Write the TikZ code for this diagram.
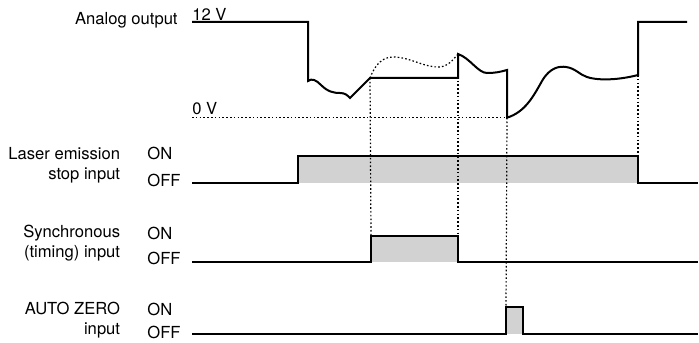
\documentclass[tikz,border=0pt]{standalone}
\usepackage{fontspec}
\setmainfont{TeX Gyre Heros}
\usepackage{tikz}
\usetikzlibrary{positioning}

\begin{document}
\begin{tikzpicture}[
    x=0.5pt, y=-0.5pt,
    sig/.style={line width=1pt, line join=miter},
    guide/.style={line width=0.6pt, dash pattern=on 0.8pt off 1.1pt},
    hifill/.style={fill=gray!35, draw=none},
    signame/.style={anchor=east, align=right, inner sep=0pt,
                    font=\fontsize{8.3}{10}\selectfont},
    level/.style={anchor=west, inner sep=0pt, font=\fontsize{8.3}{10}\selectfont}
]
\useasboundingbox (0,0) rectangle (699,342);

% signal names
\node[signame] (ana)  at (178,20)    {Analog output};
\node[signame] (las)  at (120.5,165) {Laser emission\\stop input};
\node[signame] (syn)  at (120.5,243) {Synchronous\\(timing) input};
\node[signame] (az)   at (120.5,320) {AUTO ZERO\\input};

% levels
\node[level] (v12)   at (192,14)  {12 V};
\node[level] (v0)    at (192,109) {0 V};
\node[level] (lason) at (147,153) {ON};
\node[level] (lasoff) at (147,180) {OFF};
\node[level] (synon) at (147,233) {ON};
\node[level] (synoff) at (147,258) {OFF};
\node[level] (azon)  at (147,309) {ON};
\node[level] (azoff) at (147,332) {OFF};

% shaded ON periods
\fill[hifill] (298,156) rectangle (638,182.7);
\fill[hifill] (371,236) rectangle (458,262);
\fill[hifill] (506,306.7) rectangle (523,334);

% 0 V level
\draw[guide] (192,117.7) -- (507,117.7);

% analog output
\draw[sig] (192,22) -- (308,22) -- (308,81)
    .. controls (312,78) and (316,80) .. (321,85)
    .. controls (328,92) and (334,93) .. (340,93)
    .. controls (345,93) and (347,95) .. (350,98)
    -- (370,78) coordinate (a1) -- (458,78) -- (458,54) coordinate (a2)
    .. controls (470,58) and (478,73) .. (487,73)
    .. controls (495,73) and (500,72) .. (507,70)
    -- (507,117.7) coordinate (a3)
    .. controls (525,112) and (533,97) .. (542,81)
    .. controls (550,67) and (560,66) .. (566,67)
    .. controls (575,68) and (580,75) .. (587,77)
    .. controls (595,80) and (615,81) .. (638,75) coordinate (a4)
    -- (638,22) -- (687,22);
% analog output while held
\draw[guide] (a1) .. controls (375,65) and (382,57) .. (393,57)
    .. controls (410,57) and (425,68) .. (440,67)
    .. controls (448,66) and (452,61) .. (a2);

% laser emission stop input
\draw[sig] (192,182.7) -- (298,182.7) -- (298,156) -- (638,156) coordinate (l1)
    -- (638,182.7) -- (698,182.7);
% synchronous input
\draw[sig] (192,262) -- (371,262) -- (371,236) coordinate (s1)
    -- (458,236) coordinate (s2) -- (458,262) -- (698,262);
% auto zero input
\draw[sig] (192,334) -- (506,334) -- (506,306.7) coordinate (z1)
    -- (523,306.7) -- (523,334) -- (698,334);

% timing guides
\draw[guide] (a1) -- (s1);
\draw[guide] (a2) -- (s2);
\draw[guide] (a3) -- (z1);
\draw[guide] (a4) -- (l1);
\end{tikzpicture}
\end{document}
